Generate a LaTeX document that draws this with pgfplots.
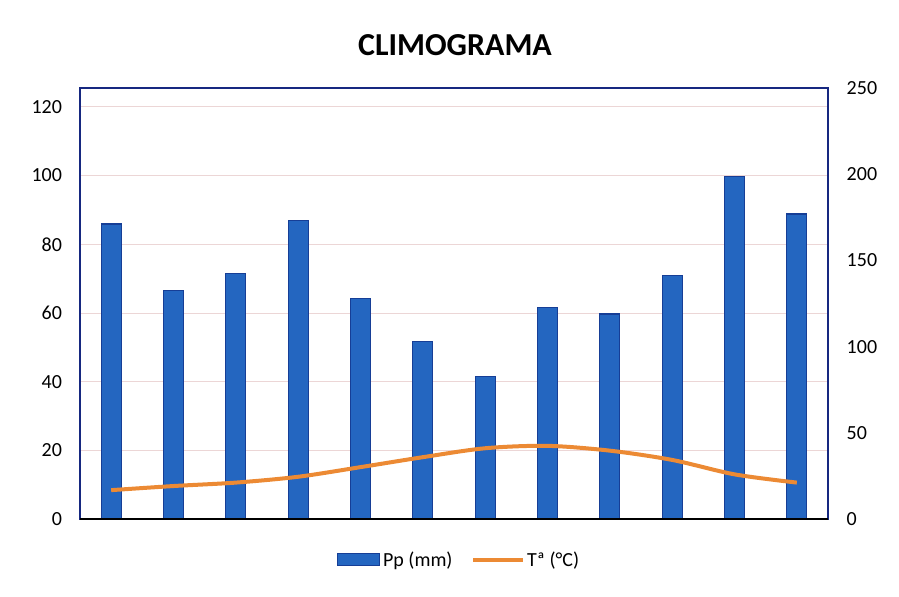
\documentclass[border=0pt]{standalone}
\usepackage{fontspec}
\setmainfont{Carlito}
\usepackage{pgfplots}
\pgfplotsset{compat=1.18}
\definecolor{barblue}{RGB}{36,102,192}
\definecolor{baredge}{RGB}{22,62,150}
\definecolor{tempor}{RGB}{236,138,52}
\definecolor{frame}{RGB}{22,40,128}
\definecolor{gridc}{RGB}{236,214,214}
\pgfplotsset{
  barleg/.style={legend image code/.code={\draw[##1, line width=0.8pt] (0pt,-4.5pt) rectangle (32pt,4.5pt);}},
  lineleg/.style={legend image code/.code={\draw[##1] (0pt,0pt) -- (37pt,0pt);}}
}

\begin{document}
\begin{tikzpicture}
\path[use as bounding box] (0,0) rectangle (674.25pt,447pt);
\node[font=\fontsize{24}{28}\selectfont\bfseries] at (341.25pt,413.25pt) {CLIMOGRAMA};

% right axis: ticks only
\begin{axis}[at={(60pt,57.75pt)}, anchor=south west, scale only axis,
  width=561pt, height=323.25pt,
  xmin=-0.5, xmax=11.5, ymin=0, ymax=250,
  hide x axis, axis y line*=right, axis line style={draw=frame, line width=1pt},
  ytick={0,50,...,250}, major tick length=0pt,
  /pgf/number format/assume math mode=true,
  yticklabel style={font=\fontsize{15}{18}\selectfont, xshift=10.5pt, anchor=west}]
\addplot[draw=none] coordinates {(0,0)};
\end{axis}

% main axis
\begin{axis}[at={(60pt,57.75pt)}, anchor=south west, scale only axis,
  width=561pt, height=323.25pt,
  xmin=-0.5, xmax=11.5, ymin=0, ymax=125.5,
  xtick=\empty, ytick={0,20,...,120}, major tick length=0pt,
  ymajorgrids, grid style={gridc, line width=0.6pt},
  axis line style={draw=frame, line width=1pt},
  /pgf/number format/assume math mode=true,
  yticklabel style={font=\fontsize{15}{18}\selectfont, xshift=-10pt},
  legend style={at={(0.507,-0.095)}, anchor=center, draw=none, fill=none,
    font=\fontsize{15}{18}\selectfont, legend columns=2,
    /tikz/every even column/.append style={column sep=12pt}},
  legend cell align=left]
\addplot[ybar, bar width=15pt, fill=barblue, draw=baredge, line width=0.8pt, barleg]
  coordinates {
(0,85.9) (1,66.4) (2,71.4) (3,86.8) (4,64.1) (5,51.6)
(6,41.4) (7,61.5) (8,59.7) (9,70.8) (10,99.6) (11,88.8)};
\addlegendentry{Pp (mm)}
\addplot[smooth, tempor, line width=3pt, lineleg]
  coordinates {
(0,8.4) (1,9.6) (2,10.6) (3,12.3) (4,15.1) (5,18.0)
(6,20.6) (7,21.3) (8,19.9) (9,17.2) (10,13.0) (11,10.6)};
\addlegendentry{Tª (°C)}
\draw[black, line width=1.2pt] (rel axis cs:0,0) -- (rel axis cs:1,0);
\end{axis}
\end{tikzpicture}
\end{document}
